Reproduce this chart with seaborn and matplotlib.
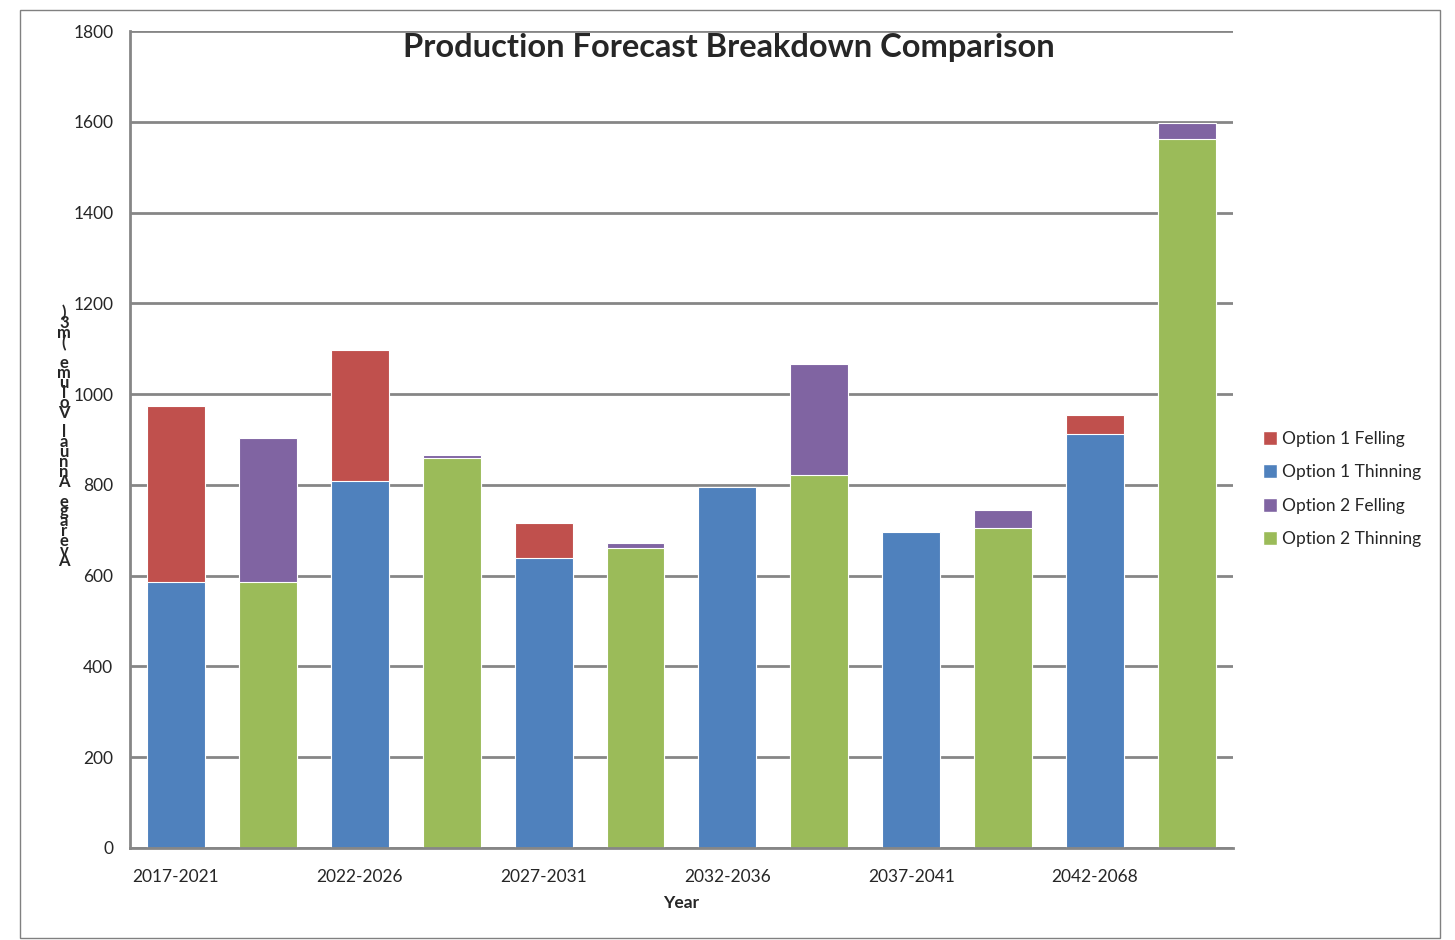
import numpy as np
import pandas as pd
import seaborn as sns
import matplotlib.pyplot as plt
from matplotlib.patches import Patch, Rectangle

# chart values (m3), one bar per option per period
periods = ['2017-2021', '2022-2026', '2027-2031', '2032-2036', '2037-2041', '2042-2068']
opt1_thinning = [585, 808, 640, 795, 697, 913]
opt1_felling = [388, 289, 77, 0, 0, 40]
opt2_thinning = [585, 860, 662, 822, 705, 1562]
opt2_felling = [318, 6, 9, 245, 40, 36]

colors = {'Option 1 Felling': '#C0504D', 'Option 1 Thinning': '#4F81BD',
          'Option 2 Felling': '#8064A2', 'Option 2 Thinning': '#9BBB59'}

# build long table: slot 0,2,4.. option 1, slot 1,3,5.. option 2
rows = []
for i, p in enumerate(periods):
    rows.append((2 * i, p, 'Option 1 Felling', opt1_thinning[i] + opt1_felling[i], 'top'))
    rows.append((2 * i, p, 'Option 1 Thinning', opt1_thinning[i], 'base'))
    rows.append((2 * i + 1, p, 'Option 2 Felling', opt2_thinning[i] + opt2_felling[i], 'top'))
    rows.append((2 * i + 1, p, 'Option 2 Thinning', opt2_thinning[i], 'base'))
df = pd.DataFrame(rows, columns=['slot', 'period', 'series', 'value', 'layer'])

sns.set_style('white')
plt.rcParams['font.family'] = ['Lato', 'DejaVu Sans']

fig = plt.figure(figsize=(14.55, 9.4), dpi=100)
ax = fig.add_axes([0.0893, 0.0979, 0.7581, 0.8691])
ax.set_axisbelow(True)

for layer in ['top', 'base']:
    d = df[df['layer'] == layer]
    sns.barplot(data=d, x='slot', y='value', hue='series', palette=colors,
                dodge=False, width=0.63, order=list(range(12)), saturation=1,
                edgecolor='white', linewidth=0.8, legend=False, ax=ax)

grid_c = '#868686'
ax.set_ylim(0, 1800)
ax.set_xlim(-0.5, 11.5)
ax.set_yticks(np.arange(0, 1801, 200))
ax.yaxis.grid(True, color=grid_c, linewidth=2)
ax.xaxis.grid(False)

# x ticks at category boundaries, labels under every other bar
ax.set_xticks(np.arange(-0.5, 12, 1))
ax.set_xticklabels([])
ax.set_xticks(np.arange(0, 12, 2), minor=True)
ax.set_xticklabels(periods, minor=True, fontsize=12.5)
ax.tick_params(axis='x', which='major', length=6, width=1.5, color=grid_c, direction='out')
ax.tick_params(axis='x', which='minor', length=0, pad=15)
ax.tick_params(axis='y', length=6, width=1.5, color=grid_c, direction='out', labelsize=12.5, pad=6)

for s in ['top', 'right']:
    ax.spines[s].set_visible(False)
for s in ['left', 'bottom']:
    ax.spines[s].set_color(grid_c)
    ax.spines[s].set_linewidth(2)

ax.set_xlabel('Year', fontsize=12.5, fontweight='bold', labelpad=7)
ax.set_ylabel('')

# garbled vertical y label, characters stacked bottom to top
ylab = 'Average Annual Volume (m3)'
fig.text(64 / 1455, 1 - 437 / 940, '\n'.join(reversed(ylab)), ha='center', va='center',
         fontsize=12, fontweight='bold', linespacing=0.53)

fig.text(729 / 1455, 1 - 48 / 940, 'Production Forecast Breakdown Comparison',
         ha='center', va='center', fontsize=23.5, fontweight='bold')

handles = [Patch(facecolor=colors[k], label=k) for k in colors]
fig.legend(handles=handles, loc='center left', bbox_to_anchor=(1247 / 1455, 1 - 489 / 940),
           frameon=False, fontsize=12.5, handlelength=0.85, handleheight=0.85,
           handletextpad=0.25, labelspacing=1.0)

fig.add_artist(Rectangle((20 / 1455, 2 / 940), 1420 / 1455, 928 / 940, transform=fig.transFigure,
                         fill=False, edgecolor='#808080', linewidth=1))

fig.savefig('out.png', dpi=100)
